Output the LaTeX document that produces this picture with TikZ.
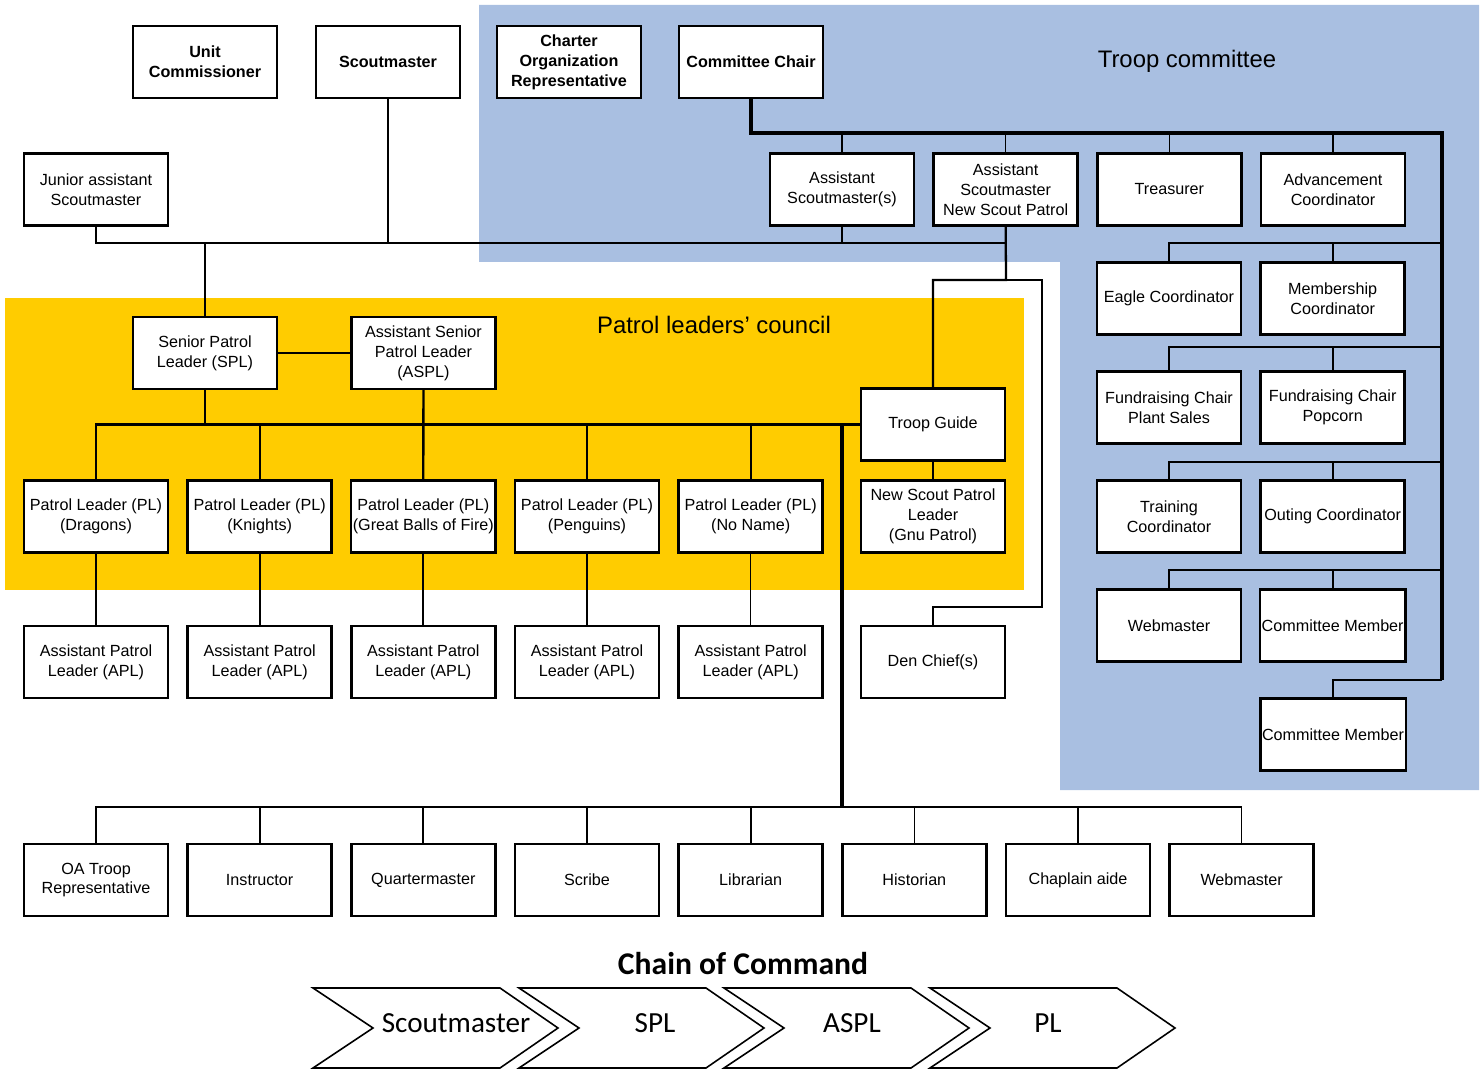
\documentclass[tikz,border=0pt]{standalone}
\usepackage{fontspec}
\setmainfont{Liberation Sans}
\newfontfamily\calibri{Carlito}
\definecolor{troopblue}{RGB}{169,191,225}
\definecolor{plcyellow}{RGB}{255,204,0}
\newcommand{\rolefont}{\fontsize{9.2}{11.3}\selectfont}

\begin{document}
\begin{tikzpicture}[x=0.02cm,y=-0.02cm,node distance=3.274cm,
			role node/.style={rectangle,fill=white,draw,line width=1.4pt,
				font=\rolefont,minimum width=2.88cm,minimum height=1.44cm,
				inner sep=1pt,align=center},
			head node/.style={role node,font=\rolefont\bfseries},
			link/.style={line width=1.3pt},
			thin link/.style={line width=0.8pt},
			heavy link/.style={line width=2.2pt},
			chevron/.style={draw,line width=0.9pt,line join=miter}]
			
			\useasboundingbox (0,0) rectangle (1484,1070);
			\fill[troopblue] (479,5) -- (1479,5) -- (1479,790) -- (1060,790)
				-- (1060,262) -- (479,262) -- cycle;
			\fill[plcyellow] (5,298) rectangle (1024,590);
			\node[font=\fontsize{13.6}{16}\selectfont] (TCT) at (1187,61) {Troop committee};
			\node[font=\fontsize{13.6}{16}\selectfont] (PLCT) at (714,325) {Patrol leaders’ council};
			
			% adult leaders
			\node[head node] (UC) at (205,62) {Unit\\Commissioner};
			\node[head node] (SM) at (388,62) {Scoutmaster};
			\node[head node] (COR) at (569,62) {Charter\\Organization\\Representative};
			\node[head node] (CC) at (751,62) {Committee Chair};
			\node[role node] (JASM) at (96,189.5) {Junior assistant\\Scoutmaster};
			\node[role node] (ASM) at (842,189.5) {Assistant\\Scoutmaster(s)};
			\node[role node] (ANSP) [right of=ASM] {Assistant\\Scoutmaster\\New Scout Patrol};
			\node[role node] (TR) [right of=ANSP] {Treasurer};
			\node[role node] (AC) [right of=TR] {Advancement\\Coordinator};
			\node[role node] (EC) at (1169,298.5) {Eagle Coordinator};
			\node[role node] (MC) [right of=EC] {Membership\\Coordinator};
			\node[role node] (FPS) at (1169,407.5) {Fundraising Chair\\Plant Sales};
			\node[role node] (FPC) [right of=FPS] {Fundraising Chair\\Popcorn};
			\node[role node] (TC) at (1169,516.5) {Training\\Coordinator};
			\node[role node] (OC) [right of=TC] {Outing Coordinator};
			\node[role node] (WMC) at (1169,625.5) {Webmaster};
			\node[role node] (CM1) [right of=WMC] {Committee Member};
			\node[role node] (CM2) at (1333,734.5) {Committee Member};
			
			% youth leaders
			\node[role node] (SPL) at (205,353) {Senior Patrol\\Leader (SPL)};
			\node[role node] (ASPL) at (423.4,353) {Assistant Senior\\Patrol Leader\\(ASPL)};
			\node[role node] (TG) at (933,424.5) {Troop Guide};
			\node[role node] (NSPL) at (933,516.5) {New Scout Patrol\\Leader\\(Gnu Patrol)};
			\node[role node] (DC) at (933,662) {Den Chief(s)};
			\node[role node] (PL1) at (96,516.5) {Patrol Leader (PL)\\(Dragons)};
			\node[role node] (PL2) [right of=PL1] {Patrol Leader (PL)\\(Knights)};
			\node[role node] (PL3) [right of=PL2] {Patrol Leader (PL)\\(Great Balls of Fire)};
			\node[role node] (PL4) [right of=PL3] {Patrol Leader (PL)\\(Penguins)};
			\node[role node] (PL5) [right of=PL4] {Patrol Leader (PL)\\(No Name)};
			\node[role node] (APL1) at (96,662) {Assistant Patrol\\Leader (APL)};
			\node[role node] (APL2) [right of=APL1] {Assistant Patrol\\Leader (APL)};
			\node[role node] (APL3) [right of=APL2] {Assistant Patrol\\Leader (APL)};
			\node[role node] (APL4) [right of=APL3] {Assistant Patrol\\Leader (APL)};
			\node[role node] (APL5) [right of=APL4] {Assistant Patrol\\Leader (APL)};
			\node[role node] (OA) at (96,880) {OA Troop\\Representative};
			\node[role node] (IN) [right of=OA] {Instructor};
			\node[role node] (QM) [right of=IN] {Quartermaster};
			\node[role node] (SC) [right of=QM] {Scribe};
			\node[role node] (LI) [right of=SC] {Librarian};
			\node[role node] (HI) [right of=LI] {Historian};
			\node[role node] (CA) [right of=HI] {Chaplain aide};
			\node[role node] (WM) [right of=CA] {Webmaster};
			
			% scoutmaster lines
			\coordinate (hub) at (388,243);
			\coordinate (fork) at (1006,280);
			\coordinate (side) at (1042,607);
			\draw[link] (SM.south) -- (hub);
			\draw[link] (SPL.north) |- (hub);
			\draw[thin link] (JASM.south) |- (SPL.north |- hub);
			\draw[link] (hub) -| (ASM.south);
			\draw[link] (hub) -| (ANSP.south);
			\draw[link] (ANSP.south) -- (fork) -| (TG.north);
			\draw[link] (fork) -| (side) -| (DC.north);
			
			% patrol leaders' council lines
			\coordinate (plc) at (205,424.5);
			\coordinate (drop) at (842,424.5);
			\coordinate (base) at (842,807);
			\draw[link] (SPL) -- (ASPL);
			\draw[link] (SPL.south) -- (plc) -| (PL1.north);
			\draw[link] (plc) -- (TG.west);
			\draw[link] (ASPL.south) -- (PL3.north);
			\foreach \n in {PL2,PL4,PL5}
				\draw[link] (\n.north) -- (\n.north |- plc);
			\draw[link] (TG) -- (NSPL);
			\foreach \n in {1,...,4}
				\draw[link] (PL\n) -- (APL\n);
			\draw[thin link] (PL5) -- (APL5);
			
			% troop positions
			\draw[heavy link] (drop) -- (base);
			\draw[link] (base) -| (OA.north);
			\draw[thin link] (base) -| (WM.north);
			\foreach \n in {IN,QM,SC,LI}
				\draw[link] (\n.north) -- (\n.north |- base);
			\foreach \n in {HI,CA}
				\draw[thin link] (\n.north) -- (\n.north |- base);
			
			% committee lines
			\coordinate (rail) at (1442,133);
			\coordinate (railend) at (1442,680);
			\draw[heavy link] (CC.south) |- (rail) -- (railend);
			\draw[link] (railend) -| (CM2.north);
			\foreach \n in {ASM,ANSP,TR,AC}
				\draw[thin link] (\n.north) -- (\n.north |- rail);
			\foreach \l/\r/\g in {EC/MC/18,FPS/FPC/23,TC/OC/17,WMC/CM1/18}{
				\draw[link] (\l.north) -- ++(0,-\g) -| (rail);
				\draw[link] (\r.north) -- ++(0,-\g);
			}
			
			% chain of command
			\node[font=\calibri\bfseries\fontsize{18}{22}\selectfont] (COC) at (743,964) {Chain of Command};
			\foreach \i/\L/\tx/\t in {1/313/456/Scoutmaster,2/519/655/SPL,3/724/852/ASPL,4/930/1048/PL}{
				\draw[chevron] (\L,988) -- ++(187,0) -- ++(58,40) -- ++(-58,40)
					-- ++(-187,0) -- ++(60,-40) -- cycle;
				\node[font=\calibri\fontsize{16.6}{20}\selectfont] (CH\i) at (\tx,1023) {\t};
			}
		\end{tikzpicture}
\end{document}
